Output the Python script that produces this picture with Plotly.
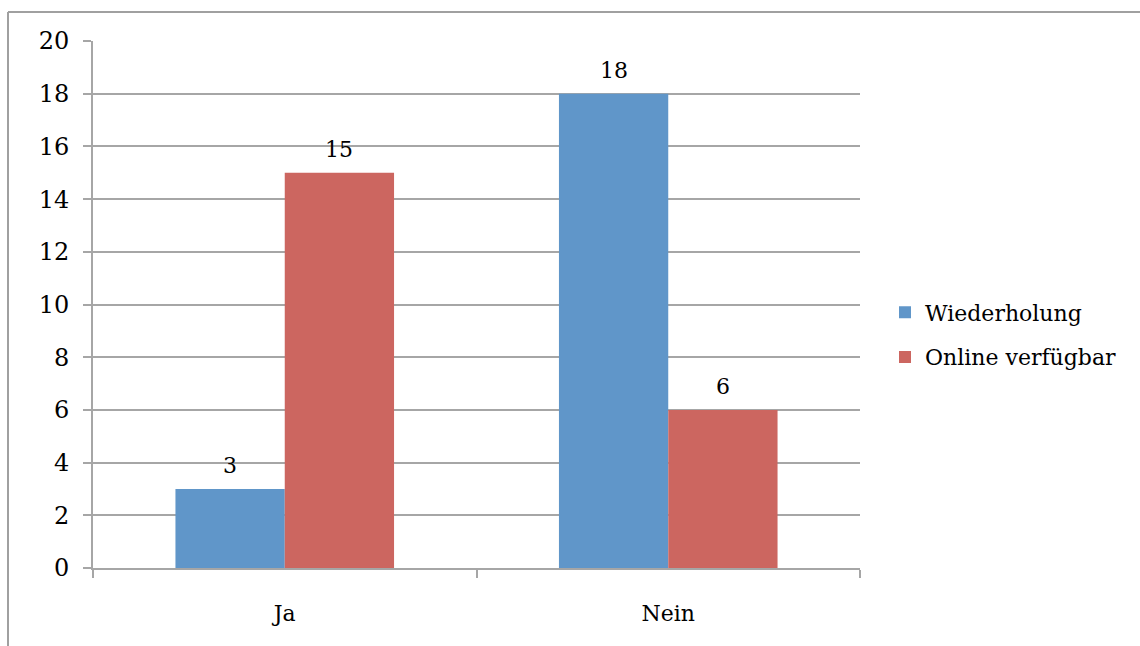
import plotly.graph_objects as go

categories = ["Ja", "Nein"]
series_names = ["Wiederholung", "Online verfügbar"]
wiederholung = [3, 18]
online = [15, 6]
y_ticks = [0, 2, 4, 6, 8, 10, 12, 14, 16, 18, 20]

FONT = "DejaVu Serif"
FS = 22
GRID = "#a6a6a6"
BLUE = "#6096C9"
RED = "#CC6660"

L, R, T, B = 93, 280, 41, 78
PLOT_W = 1140 - L - R
PLOT_H = 646 - T - B
BARGAP = 0.43
bar_w = PLOT_W / len(categories) * (1 - BARGAP) / 2

fig = go.Figure()
fig.add_trace(go.Bar(name=series_names[0], x=categories, y=wiederholung,
                     marker=dict(color=BLUE, line=dict(width=0)),
                     legendgroup="a"))
fig.add_trace(go.Bar(name=series_names[1], x=categories, y=online,
                     marker=dict(color=RED, line=dict(width=0)),
                     legendgroup="b"))

# data labels above bars
for vals, sign in ((wiederholung, -1), (online, 1)):
    for c, v in zip(categories, vals):
        fig.add_annotation(x=c, y=v, text=str(v), showarrow=False,
                           xanchor="center", yanchor="bottom",
                           xshift=sign * bar_w / 2, yshift=9,
                           font=dict(family=FONT, size=FS, color="#000000"))

fig.update_layout(
    width=1140, height=646,
    margin=dict(l=L, r=R, t=T, b=B, autoexpand=False),
    paper_bgcolor="white", plot_bgcolor="white",
    font=dict(family=FONT, size=FS, color="#000000"),
    barmode="group", bargap=BARGAP, bargroupgap=0,
    showlegend=True,
    legend=dict(x=(885 - L) / PLOT_W, y=0.5 - (335 - 304.5) / PLOT_H,
                xanchor="left", yanchor="middle",
                traceorder="grouped", tracegroupgap=13,
                font=dict(family=FONT, size=FS)),
    xaxis=dict(showgrid=False, showline=True, linecolor=GRID, linewidth=2,
               ticks="outside", tickson="boundaries", ticklen=8, tickcolor=GRID,
               tickwidth=2, ticklabelstandoff=25),
    yaxis=dict(range=[0, 20], tickvals=y_ticks, showgrid=True, gridcolor=GRID,
               gridwidth=2, showline=True, linecolor=GRID, linewidth=2,
               ticks="outside", ticklen=8, tickcolor=GRID, tickwidth=2,
               zeroline=False, ticklabelstandoff=9,
               tickfont=dict(family=FONT, size=24)),
)

# chart border (top and left edges visible)
fig.add_shape(type="line", xref="paper", yref="paper",
              x0=(8 - L) / PLOT_W, x1=(1160 - L) / PLOT_W,
              y0=1 + (T - 12) / PLOT_H, y1=1 + (T - 12) / PLOT_H,
              line=dict(color="#a0a0a0", width=2))
fig.add_shape(type="line", xref="paper", yref="paper",
              x0=(8 - L) / PLOT_W, x1=(8 - L) / PLOT_W,
              y0=1 + (T - 12) / PLOT_H, y1=-(700 - 568) / PLOT_H,
              line=dict(color="#a0a0a0", width=2))

fig.write_html("out.html")
